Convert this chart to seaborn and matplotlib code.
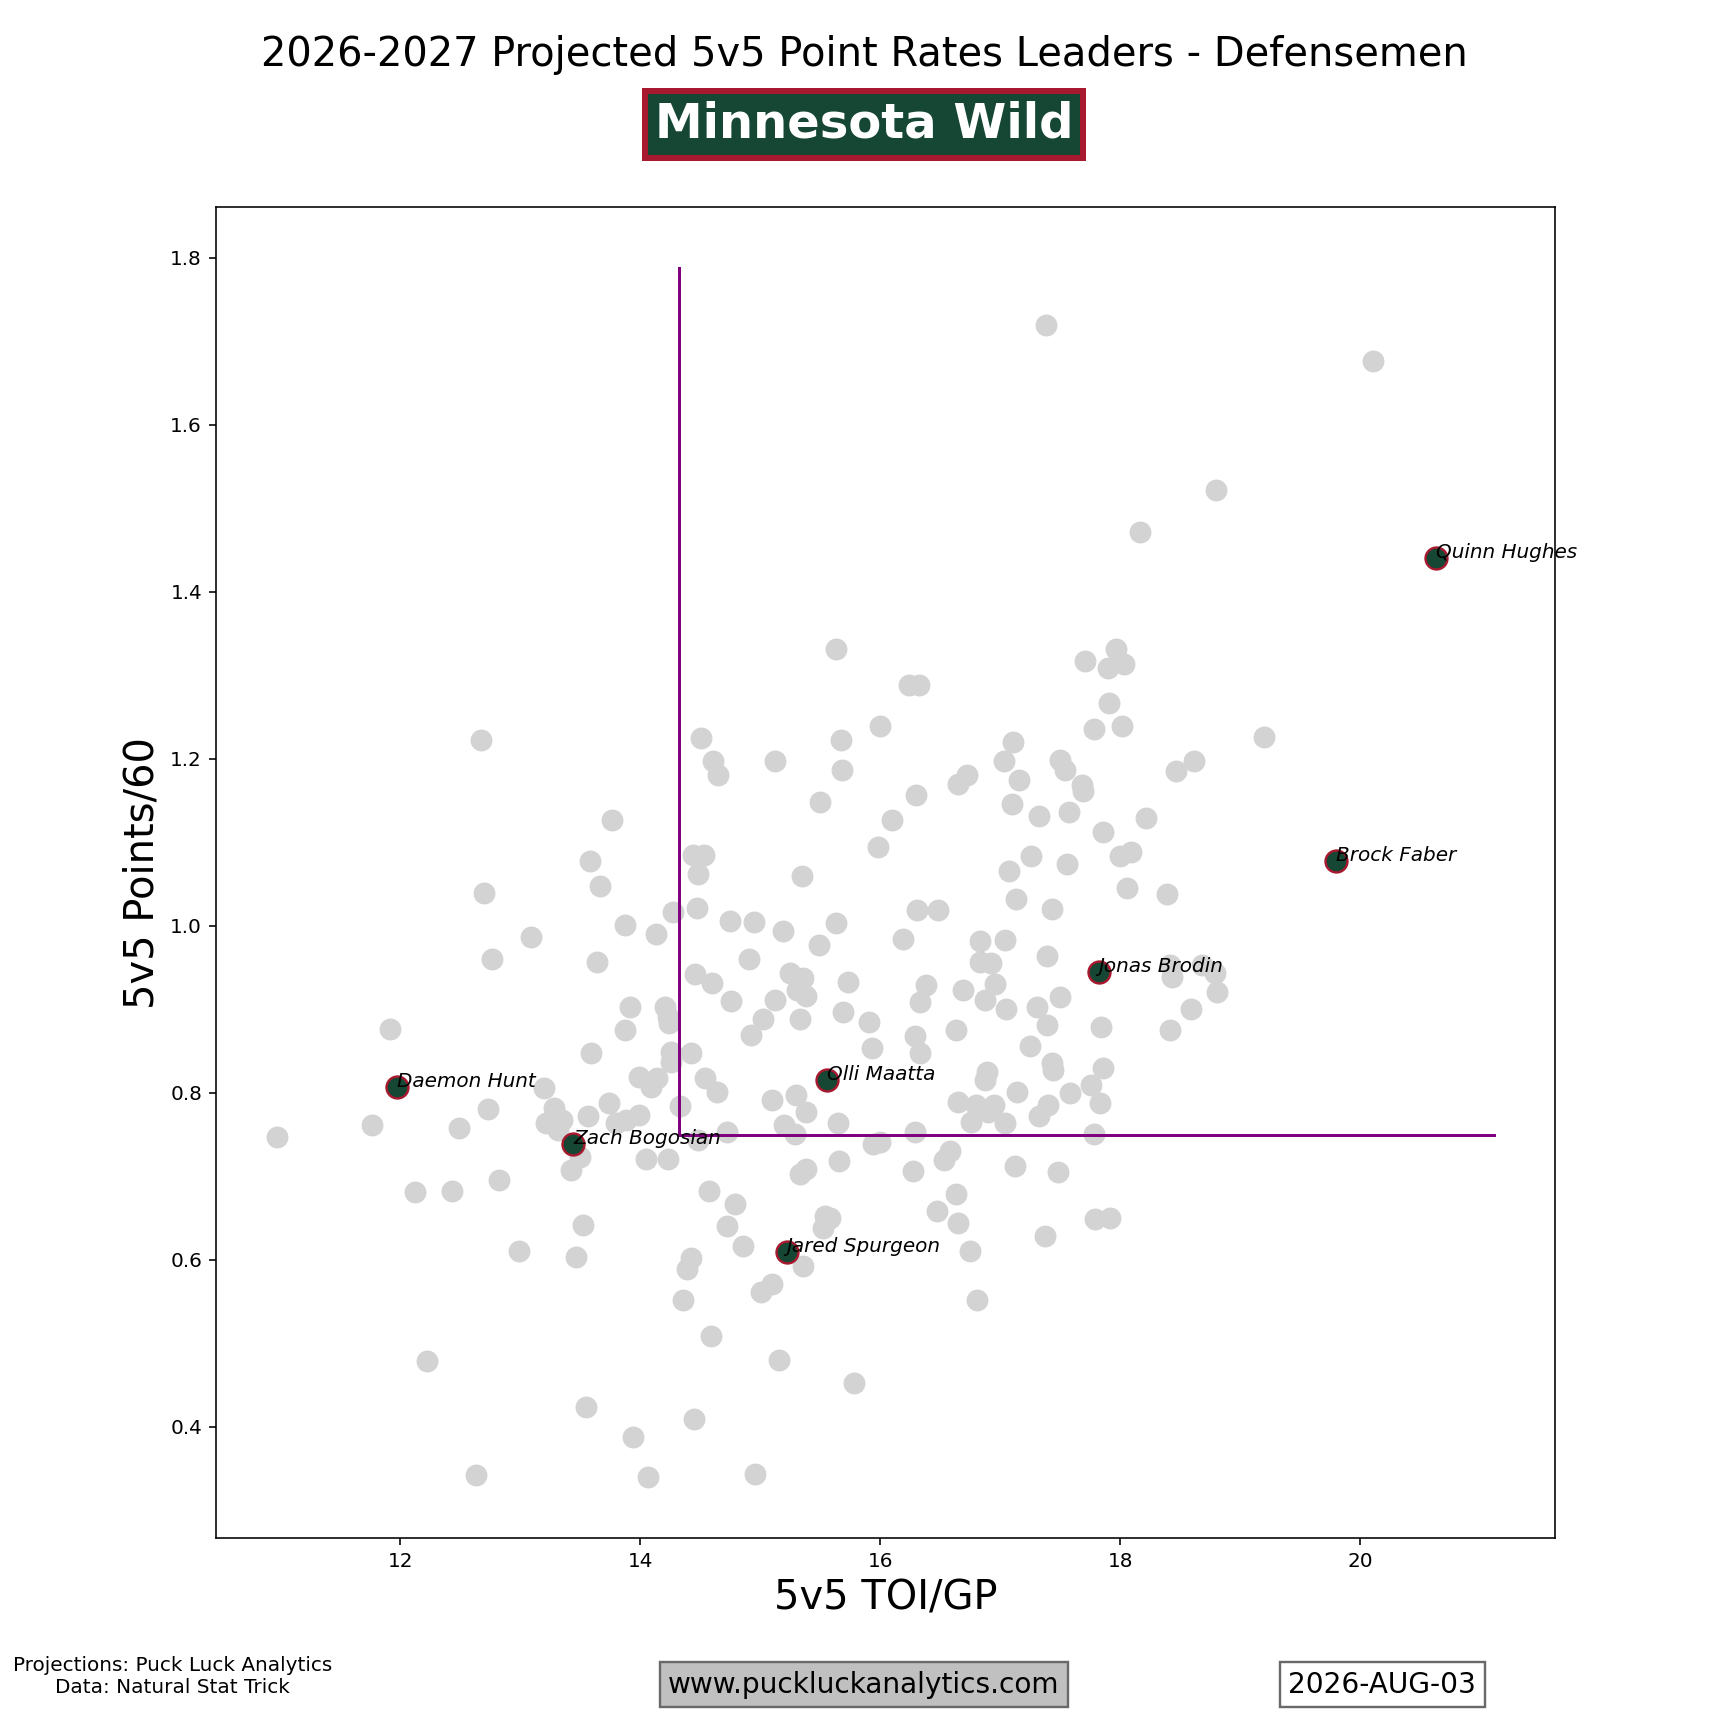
import matplotlib
matplotlib.use("Agg")
import numpy as np
import pandas as pd
import seaborn as sns
import matplotlib.pyplot as plt

# league defensemen (grey dots): 5v5 TOI/GP and 5v5 points/60
league_toi = [17.38, 20.11, 18.80, 18.17,
              17.71, 17.97, 17.90, 18.03, 17.91, 17.78, 18.02, 19.20, 18.47, 18.62,
              17.68, 17.69, 18.22, 17.86, 18.00, 18.09, 18.06, 18.39, 18.42, 18.43,
              18.68, 18.79, 18.81, 18.59, 17.84, 18.42, 17.86, 17.76, 17.83,
              17.78, 17.79, 17.92,
              15.63, 16.24, 16.32, 16.00, 14.51, 15.67, 14.61, 14.65, 15.12, 15.68,
              17.11, 17.03, 17.16, 17.50, 17.54, 17.10, 17.32, 17.57, 16.72, 16.65,
              16.30, 15.50, 16.10, 15.98, 17.26, 17.56, 17.07, 17.13, 17.43, 14.44,
              14.53, 14.48, 15.35, 14.47, 14.27, 13.87, 14.13, 14.75, 14.95, 15.63,
              16.31, 16.48, 15.19, 16.19, 15.49, 16.83, 17.04, 14.91, 16.83, 16.92,
              17.39, 14.46, 14.60, 14.76, 15.25, 15.36, 15.31, 15.38, 15.12, 15.73,
              16.38, 16.33, 16.69, 16.96, 16.87, 17.05, 17.31, 17.50, 17.39, 16.63,
              15.69, 15.91, 15.33, 15.02, 14.92, 16.29, 16.33, 15.93, 17.25, 17.43,
              17.44, 16.89, 16.87, 17.14, 13.91, 14.21, 14.23, 14.24, 13.87, 14.26,
              14.26, 14.42, 13.99, 14.14, 14.09, 14.54, 14.64, 17.58,
              12.67, 13.76, 13.58, 13.66, 12.70, 13.09, 12.76, 13.64, 11.91, 13.59,
              13.20,
              10.97, 11.76, 12.49, 12.73, 13.28, 13.21, 13.31, 13.35, 13.56, 13.74,
              13.80, 13.88, 13.50, 13.42, 12.82, 12.12, 12.43, 13.52, 12.99, 13.46,
              12.22, 13.55, 12.63,
              13.99, 14.33, 14.48, 14.72, 15.10, 15.30, 15.38, 15.20, 15.29, 15.65,
              15.94, 16.00, 16.29, 16.65, 16.76, 16.80, 16.90, 16.95, 17.04, 17.32,
              17.40, 14.05, 14.23, 15.33, 15.38, 15.66, 16.27, 16.53, 16.58, 17.12,
              17.48, 14.57, 14.79, 14.72, 14.86, 15.54, 15.58, 15.52, 16.63, 16.47,
              16.65, 17.37, 16.75, 15.36, 14.42, 14.39, 15.10, 15.01, 14.36, 16.81,
              14.59, 15.16, 15.78, 14.45, 13.94, 14.06, 14.96]
league_pts = [1.719, 1.676, 1.522, 1.472,
              1.317, 1.332, 1.309, 1.313, 1.267, 1.235, 1.239, 1.226, 1.185, 1.197,
              1.168, 1.161, 1.129, 1.112, 1.084, 1.088, 1.045, 1.038, 0.953, 0.938,
              0.953, 0.943, 0.920, 0.900, 0.878, 0.875, 0.830, 0.809, 0.787,
              0.750, 0.648, 0.650,
              1.331, 1.288, 1.288, 1.239, 1.225, 1.222, 1.197, 1.181, 1.197, 1.187,
              1.220, 1.197, 1.175, 1.199, 1.187, 1.146, 1.131, 1.136, 1.181, 1.170,
              1.156, 1.148, 1.127, 1.094, 1.084, 1.074, 1.065, 1.032, 1.020, 1.085,
              1.085, 1.062, 1.059, 1.021, 1.016, 1.001, 0.990, 1.006, 1.004, 1.003,
              1.019, 1.019, 0.993, 0.984, 0.977, 0.982, 0.983, 0.960, 0.956, 0.955,
              0.964, 0.942, 0.931, 0.910, 0.943, 0.937, 0.923, 0.916, 0.911, 0.932,
              0.929, 0.908, 0.923, 0.930, 0.911, 0.900, 0.903, 0.914, 0.881, 0.875,
              0.897, 0.884, 0.888, 0.888, 0.869, 0.868, 0.847, 0.854, 0.856, 0.835,
              0.827, 0.825, 0.815, 0.801, 0.903, 0.903, 0.891, 0.883, 0.875, 0.849,
              0.837, 0.847, 0.819, 0.817, 0.807, 0.817, 0.801, 0.800,
              1.222, 1.127, 1.078, 1.047, 1.039, 0.987, 0.960, 0.957, 0.876, 0.848,
              0.805,
              0.747, 0.761, 0.758, 0.780, 0.782, 0.763, 0.755, 0.767, 0.772, 0.788,
              0.764, 0.767, 0.723, 0.707, 0.695, 0.681, 0.682, 0.641, 0.610, 0.603,
              0.478, 0.423, 0.342,
              0.773, 0.784, 0.743, 0.753, 0.791, 0.797, 0.777, 0.761, 0.751, 0.763,
              0.739, 0.741, 0.753, 0.789, 0.765, 0.785, 0.777, 0.785, 0.763, 0.772,
              0.785, 0.721, 0.721, 0.703, 0.709, 0.718, 0.706, 0.719, 0.730, 0.712,
              0.705, 0.682, 0.666, 0.640, 0.616, 0.652, 0.650, 0.638, 0.679, 0.658,
              0.644, 0.628, 0.610, 0.592, 0.602, 0.589, 0.571, 0.561, 0.551, 0.551,
              0.509, 0.480, 0.452, 0.409, 0.388, 0.339, 0.343]

# Minnesota Wild defensemen
team_players = ["Quinn Hughes", "Brock Faber", "Jonas Brodin", "Olli Maatta",
                "Daemon Hunt", "Zach Bogosian", "Jared Spurgeon"]
team_toi = [20.63, 19.80, 17.82, 15.56, 11.97, 13.44, 15.22]
team_pts = [1.440, 1.078, 0.944, 0.815, 0.807, 0.739, 0.609]

# reference lines
toi_ref = 14.32
pts_ref = 0.749
vline_top = 1.788
hline_end = 21.12

team_name = "Minnesota Wild"
team_green = "#154734"
team_red = "#A6192E"

league_df = pd.DataFrame({"toi": league_toi, "pts": league_pts})
team_df = pd.DataFrame({"player": team_players, "toi": team_toi, "pts": team_pts})

fig, ax = plt.subplots(figsize=(12, 12), dpi=144)

sns.scatterplot(data=league_df, x="toi", y="pts", color="lightgray", s=120,
                linewidth=0, ax=ax, zorder=2)
ax.plot([toi_ref, toi_ref], [pts_ref, vline_top], color="purple", lw=1.5, zorder=3)
ax.plot([toi_ref, hline_end], [pts_ref, pts_ref], color="purple", lw=1.5, zorder=3)
sns.scatterplot(data=team_df, x="toi", y="pts", color=team_green, edgecolor=team_red,
                linewidth=1.2, s=120, ax=ax, zorder=4)
for name, x, y in zip(team_players, team_toi, team_pts):
    ax.text(x, y, name, fontsize=10, style="italic", zorder=5)

ax.set_xlabel("5v5 TOI/GP", fontsize=20)
ax.set_ylabel("5v5 Points/60", fontsize=20)

fig.suptitle("2026-2027 Projected 5v5 Point Rates Leaders - Defensemen", fontsize=20)
fig.text(0.5, 0.928, team_name, fontsize=24, fontweight="bold", color="white",
         ha="center", va="center",
         bbox=dict(boxstyle="square,pad=0.2", fc=team_green, ec=team_red, lw=3))

fig.text(0.1, 0.03, "Projections: Puck Luck Analytics\nData: Natural Stat Trick",
         fontsize=10, ha="center", va="center", multialignment="center")
fig.text(0.5, 0.025, "www.puckluckanalytics.com", fontsize=14, ha="center", va="center",
         bbox=dict(boxstyle="square,pad=0.3", fc="silver", ec="dimgray", lw=1.2))
fig.text(0.8, 0.025, "2026-AUG-03", fontsize=14, ha="center", va="center",
         bbox=dict(boxstyle="square,pad=0.3", fc="white", ec="dimgray", lw=1.2))

fig.savefig("out.png", dpi=144)
